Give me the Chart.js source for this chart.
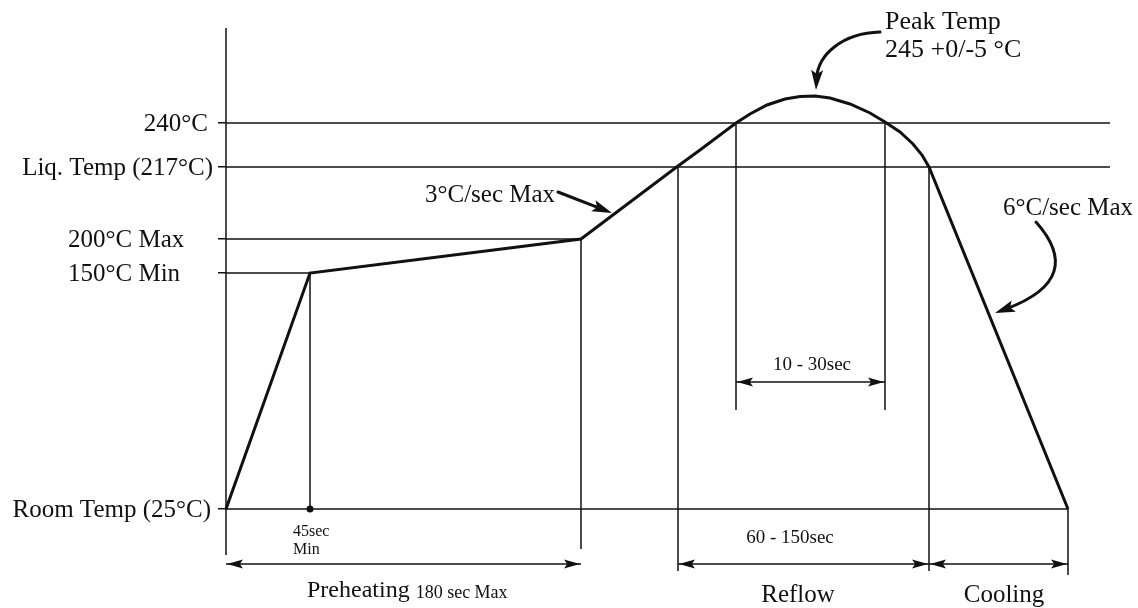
<!DOCTYPE html>
<html>
<head>
<meta charset="utf-8">
<script src="https://cdn.jsdelivr.net/npm/chart.js@4.4.0/dist/chart.umd.min.js"></script>
<style>
html, body { margin: 0; padding: 0; background: #fff; }
#wrap { width: 1138px; height: 608px; }
</style>
</head>
<body>
<div id="wrap"><canvas id="chart"></canvas></div>
<script>
// ===== data (schematic units: x = time position, y = height above room temp) =====
const levelLabels = ["Room Temp (25°C)", "150°C Min", "200°C Max", "Liq. Temp (217°C)", "240°C"];
const levelValues = [0, 236, 270, 342, 386];
const levelEnds   = [842, 84, 355, 884, 884];

// reflow profile curve
const profileX = [0, 84, 355, 452, 474, 510, 524, 541, 559, 574, 589, 604, 624, 644, 659, 674, 687, 696, 703, 842];
const profileY = [0, 236, 270, 343, 359, 386, 395, 404, 410, 412.5, 413, 411, 405, 396, 387, 377, 365, 354, 342, 0];

// vertical guide lines
const guideX   = [0, 84, 355, 452, 510, 659, 703, 842];
const guideTop = [481, 236, 270, 343, 386, 387, 342, 0];
const guideBot = [-46, 0, -40, -62, 99, 99, -62, -66];

// time spans (dimension arrows)
const spanY  = [-55, 127, -55, -55];
const spanX1 = [0, 510, 452, 703];
const spanX2 = [355, 659, 703, 842];

// ===== layout / styles =====
const FONT = '"Liberation Serif", "Times New Roman", serif';
const INK = "#111";
const levelAlign  = ["right", "left", "left", "right", "right"];
const levelAnchor = [211, 68, 68, 213, 208];

const notes = [
  { text: "Peak Temp",     x: 659, y: 487, size: 26, align: "left" },
  { text: "245 +0/-5 °C",  x: 659, y: 459, size: 26, align: "left" },
  { text: "3°C/sec Max",   x: 199, y: 314, size: 25, align: "left" },
  { text: "6°C/sec Max",   x: 777, y: 301, size: 25, align: "left" },
  { text: "10 - 30sec",    x: 586, y: 144, size: 19, align: "center" },
  { text: "45sec",         x: 67,  y: -23, size: 16, align: "left" },
  { text: "Min",           x: 67,  y: -41, size: 16, align: "left" },
  { text: "60 - 150sec",   x: 564, y: -29, size: 19, align: "center" },
  { text: "Reflow",        x: 572, y: -86, size: 25, align: "center" },
  { text: "Cooling",       x: 778, y: -86, size: 25, align: "center" }
];

// callout arrows: cubic curves in data units [start, cp1, cp2, end]
const callouts = [
  [[654, 477], [616, 476], [592, 454], [590, 419]],
  [[332, 317], [350, 310], [368, 303], [386, 296]],
  [[810, 287], [842, 251], [836, 221], [769, 196]]
];

function lineSet(xs, ys, width) {
  return {
    data: xs.map((x, i) => ({ x: x, y: ys[i] })),
    showLine: true,
    borderColor: INK,
    borderWidth: width,
    pointRadius: 0,
    tension: 0,
    clip: false
  };
}

const datasets = [];
levelValues.forEach((v, i) => datasets.push(lineSet([0, levelEnds[i]], [v, v], 1.5)));
guideX.forEach((x, i) => datasets.push(lineSet([x, x], [guideTop[i], guideBot[i]], 1.5)));
spanY.forEach((y, i) => datasets.push(lineSet([spanX1[i], spanX2[i]], [y, y], 1.5)));
datasets.push(lineSet(profileX, profileY, 3));

function arrowHead(ctx, x, y, ang, len, half) {
  ctx.save();
  ctx.translate(x, y);
  ctx.rotate(ang);
  ctx.beginPath();
  ctx.moveTo(0, 0);
  ctx.lineTo(-len, -half);
  ctx.lineTo(-len * 0.8, 0);
  ctx.lineTo(-len, half);
  ctx.closePath();
  ctx.fill();
  ctx.restore();
}

const drawExtras = {
  id: "drawExtras",
  afterDatasetsDraw(chart) {
    const ctx = chart.ctx;
    const xs = chart.scales.x, ys = chart.scales.y;
    const px = v => xs.getPixelForValue(v);
    const py = v => ys.getPixelForValue(v);
    ctx.save();
    ctx.fillStyle = INK;
    ctx.strokeStyle = INK;
    ctx.textBaseline = "middle";

    // level labels
    ctx.font = "25px " + FONT;
    levelLabels.forEach((t, i) => {
      ctx.textAlign = levelAlign[i];
      ctx.fillText(t, levelAnchor[i], py(levelValues[i]) + 1);
    });

    // span arrowheads
    spanY.forEach((y, i) => {
      arrowHead(ctx, px(spanX1[i]) + 1, py(y), Math.PI, 16, 4.5);
      arrowHead(ctx, px(spanX2[i]) - 1, py(y), 0, 16, 4.5);
    });

    // 45sec dot
    ctx.beginPath();
    ctx.arc(px(84), py(0), 3.5, 0, Math.PI * 2);
    ctx.fill();

    // notes
    notes.forEach(n => {
      ctx.font = n.size + "px " + FONT;
      ctx.textAlign = n.align;
      ctx.fillText(n.text, px(n.x), py(n.y));
    });

    // Preheating label with small suffix
    ctx.textAlign = "left";
    ctx.font = "24px " + FONT;
    const x0 = 307, y0 = 591;
    ctx.fillText("Preheating", x0, y0);
    const w = ctx.measureText("Preheating ").width;
    ctx.font = "18px " + FONT;
    ctx.fillText("180 sec Max", x0 + w, y0 + 2);

    // callout arrows
    ctx.lineWidth = 3;
    ctx.lineCap = "round";
    callouts.forEach(c => {
      const p = c.map(q => [px(q[0]), py(q[1])]);
      const ang = Math.atan2(p[3][1] - p[2][1], p[3][0] - p[2][0]);
      const ex = p[3][0] - Math.cos(ang) * 12, ey = p[3][1] - Math.sin(ang) * 12;
      ctx.beginPath();
      ctx.moveTo(p[0][0], p[0][1]);
      ctx.bezierCurveTo(p[1][0], p[1][1], p[2][0], p[2][1], ex, ey);
      ctx.stroke();
      arrowHead(ctx, p[3][0], p[3][1], ang, 20, 6);
    });
    ctx.restore();
  }
};

new Chart(document.getElementById("chart"), {
  type: "scatter",
  data: { datasets: datasets },
  options: {
    responsive: true,
    maintainAspectRatio: false,
    animation: false,
    layout: { padding: { left: 0, right: 28, top: 28, bottom: 8 } },
    plugins: { legend: { display: false }, tooltip: { enabled: false } },
    scales: {
      x: { type: "linear", min: 0, max: 884, display: false },
      y: {
        type: "linear",
        min: -91,
        max: 481,
        afterBuildTicks: s => { s.ticks = levelValues.map(v => ({ value: v })); },
        afterFit: s => { s.width = 226; },
        ticks: { display: false },
        border: { display: false },
        grid: { drawOnChartArea: false, drawTicks: true, tickLength: 8, color: INK, lineWidth: 1.5 }
      }
    }
  },
  plugins: [drawExtras]
});
</script>
</body>
</html>
